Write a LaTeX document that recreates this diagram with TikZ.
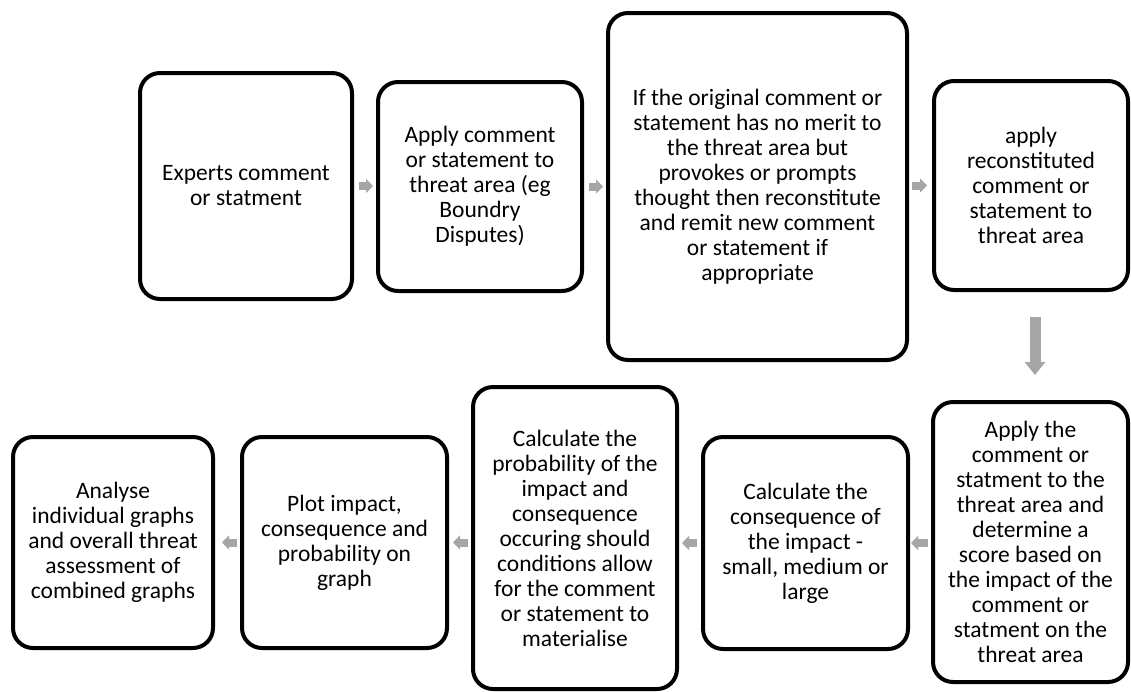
\documentclass[tikz,border=0pt]{standalone}
\usepackage{fontspec}
\setmainfont{Carlito}
\usetikzlibrary{arrows.meta,calc}
\definecolor{arrgray}{HTML}{A6A6A6}
\tikzset{
  box/.style={draw=black, line width=4pt, rounded corners=20pt, fill=white,
    align=center, inner sep=0pt, font=\fontsize{23.5}{25}\selectfont},
  harr/.style={draw=arrgray, line width=8pt, line cap=butt,
    -{Triangle[length=7pt,width=14pt]}},
  varr/.style={draw=arrgray, line width=11pt, line cap=butt,
    -{Triangle[length=13pt,width=20pt]}}
}
\begin{document}
\begin{tikzpicture}[x=1pt,y=-1pt]
\useasboundingbox (0,0) rectangle (1131,691);
\node[box, minimum width=212pt, minimum height=226pt] (b1) at (246,186)
  {Experts comment\\or statment};
\node[box, minimum width=204pt, minimum height=209pt] (b2) at (480,186.5)
  {Apply comment\\or statement to\\threat area (eg\\Boundry\\Disputes)};
\node[box, minimum width=299pt, minimum height=347pt] (b3) at (757.5,186.5)
  {If the original comment or\\statement  has no merit to\\the threat area but\\provokes or prompts\\thought then reconstitute\\and remit new comment\\or statement if\\appropriate};
\node[box, minimum width=194pt, minimum height=209pt] (b4) at (1031,185.5)
  {apply\\reconstituted\\comment or\\statement to\\threat area};
\node[box, minimum width=195pt, minimum height=280pt] (b5) at (1030.5,542)
  {Apply the\\comment or\\statment to the\\threat area and\\determine a\\score based on\\the impact of the\\comment or\\statment on the\\threat area};
\node[box, minimum width=205pt, minimum height=212pt] (b6) at (805.5,543)
  {Calculate the\\consequence of\\the impact  -\\small, medium or\\large};
\node[box, minimum width=204pt, minimum height=302pt] (b7) at (575,538)
  {Calculate the\\probability of the\\impact and\\consequence\\occuring should\\conditions allow\\for the comment\\or statement to\\materialise};
\node[box, minimum width=205pt, minimum height=211pt] (b8) at (344.5,542.5)
  {Plot impact,\\consequence and\\probability on\\graph};
\node[box, minimum width=200pt, minimum height=211pt] (b9) at (113,542.5)
  {Analyse\\individual graphs\\and overall threat\\assessment of\\combined graphs};
% top row arrows
\draw[harr, shorten <=5pt, shorten >=3pt] (b1.east) -- (b1.east -| b2.west);
\draw[harr, shorten <=5pt, shorten >=3pt] (b2.east) -- (b2.east -| b3.west);
\draw[harr, shorten <=3pt, shorten >=5pt] (b3.east |- b4.west) -- (b4.west);
% down arrow
\draw[varr, shorten <=25pt, shorten >=25pt] ([xshift=4pt]b4.south) -- ([xshift=4pt]b4.south |- b5.north);
% bottom row arrows
\draw[harr, shorten <=3pt, shorten >=1pt] (b5.west |- b6.east) -- (b6.east);
\draw[harr, shorten <=4pt, shorten >=3pt] (b6.west) -- (b6.west -| b7.east);
\draw[harr, shorten <=3pt, shorten >=4pt] (b7.west |- b8.east) -- (b8.east);
\draw[harr, shorten <=3pt, shorten >=7pt] (b8.west) -- (b8.west -| b9.east);
\end{tikzpicture}
\end{document}
